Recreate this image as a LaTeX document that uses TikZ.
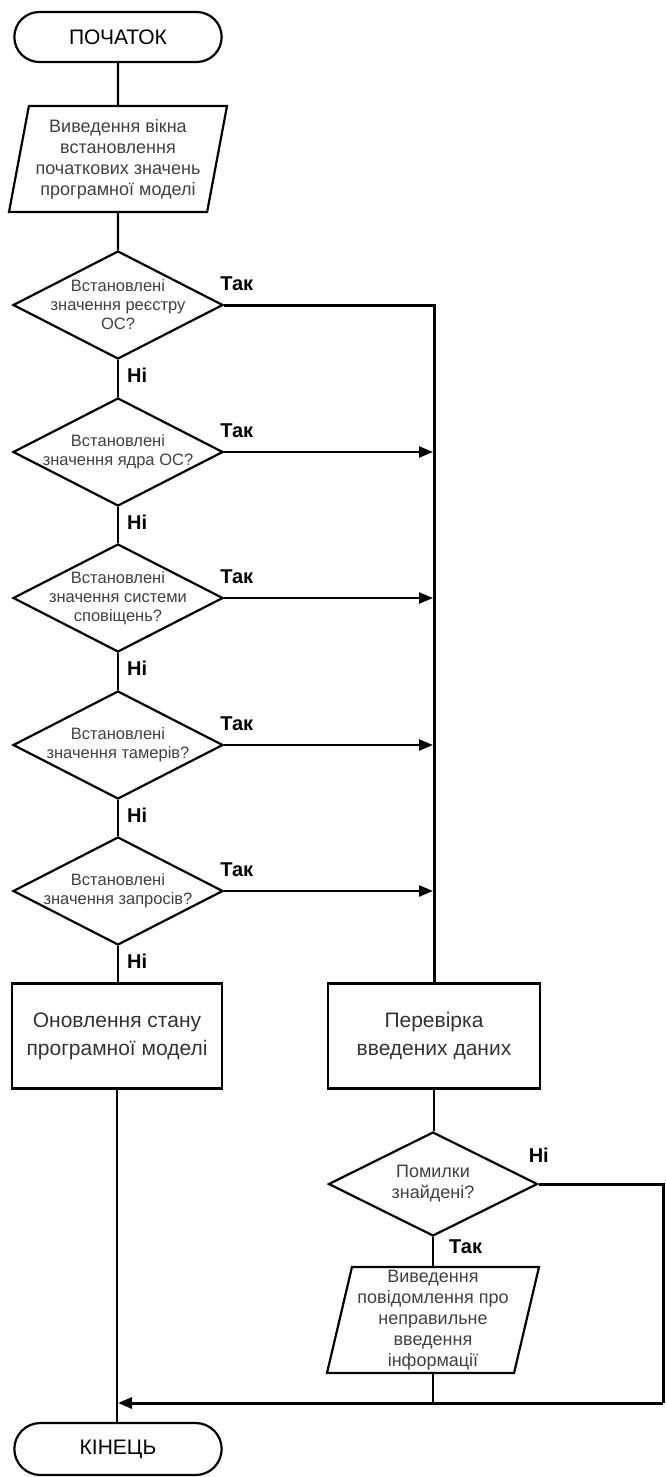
\documentclass[tikz,border=0pt]{standalone}
\usepackage{fontspec}
\setmainfont{Liberation Sans}
\usetikzlibrary{shapes.geometric, shapes.misc, arrows.meta, positioning}

\tikzset{
    term/.style={draw, rounded rectangle, line width=2.2pt, minimum width=214pt, minimum height=50pt, font=\fontsize{21}{25}\selectfont},
    io/.style={draw, trapezium, trapezium left angle=76, trapezium right angle=104, trapezium stretches body,
        line width=2.2pt, minimum width=218pt, minimum height=106pt, inner sep=0pt, align=center,
        font=\fontsize{18}{21}\selectfont, text=black!75},
    cond/.style={draw, diamond, line width=2.2pt, minimum width=210pt, minimum height=108pt, inner sep=0pt},
    qtext/.style={align=center, inner sep=0pt, font=\fontsize{16.5}{19}\selectfont, text=black!75},
    proc/.style={draw, rectangle, line width=2.8pt, minimum width=210pt, minimum height=105pt, align=center,
        font=\fontsize{21}{28}\selectfont, text=black!80},
    ans/.style={inner sep=0pt, font=\bfseries\fontsize{20}{24}\selectfont},
    line/.style={line width=2.4pt},
    arr/.style={line width=2.4pt, -{Triangle[length=14pt,width=11pt]}, shorten >=1pt},
}

\begin{document}
\begin{tikzpicture}[x=1pt, y=-1pt]
    \useasboundingbox (0,0) rectangle (665,1477);

    % left column
    \node[term] (start) at (118,37) {ПОЧАТОК};
    \node[io] (in1) at (118,159) {Виведення вікна\\встановлення\\початкових значень\\програмної моделі};

    \node[cond] (d1) at (118,305) {};
    \node[qtext] (q1) at (d1.center) {Встановлені\\значення реєстру\\ОС?};
    \node[cond] (d2) at (118,452) {};
    \node[qtext] (q2) at (d2.center) {Встановлені\\значення ядра ОС?};
    \node[cond] (d3) at (118,598) {};
    \node[qtext] (q3) at (d3.center) {Встановлені\\значення системи\\сповіщень?};
    \node[cond] (d4) at (118,745) {};
    \node[qtext] (q4) at (d4.center) {Встановлені\\значення тамерів?};
    \node[cond] (d5) at (118,891) {};
    \node[qtext] (q5) at (d5.center) {Встановлені\\значення запросів?};

    \node[proc] (upd) at (117,1036) {Оновлення стану\\програмної моделі};
    \node[term, minimum height=52pt] (end) at (118,1449) {КІНЕЦЬ};

    % right column
    \node[proc, minimum width=212pt] (chk) at (434,1036) {Перевірка\\введених даних};
    \node[cond, minimum width=209pt, minimum height=104pt] (d6) at (433,1184) {};
    \node[qtext, font=\fontsize{18}{21}\selectfont] (q6) at (d6.center) {Помилки\\знайдені?};
    \node[io, minimum width=212pt] (err) at (433,1320) {Виведення\\повідомлення про\\неправильне\\введення\\інформації};
    \coordinate (rt) at (663,1403);

    % answers
    \foreach \d in {d1,d2,d3,d4,d5} {
        \node[ans, above right=14pt and -4pt of \d.east] (yes\d) {Так};
        \node[ans, below right=8pt and 9pt of \d.south] (no\d) {Ні};
    }
    \node[ans, above right=21pt and -10pt of d6.east] (nod6) {Ні};
    \node[ans, below right=2pt and 16pt of d6.south] (yesd6) {Так};

    % connectors
    \draw[line] (start) -- (in1);
    \draw[line] (in1) -- (d1);
    \draw[line] (d1) -- (d2);
    \draw[line] (d2) -- (d3);
    \draw[line] (d3) -- (d4);
    \draw[line] (d4) -- (d5);
    \draw[line] (d5.south) -- (d5.south |- upd.north);
    \draw[line] (upd.south) -- (upd.south |- end.north);
    \draw[line, line width=3pt] (d1.east) -| (chk.north);
    \foreach \d in {d2,d3,d4,d5}
        \draw[arr] (\d.east) -- (\d.east -| chk.north);
    \draw[line] (chk.south) -- (chk.south |- d6.north);
    \draw[line] (d6) -- (err);
    \draw[line, line width=3pt] (d6.east) -| (rt);
    \draw[line] (err.south) -- (err.south |- rt);
    \draw[arr, line width=3pt] (rt) -- (rt -| upd.south);
\end{tikzpicture}
\end{document}
